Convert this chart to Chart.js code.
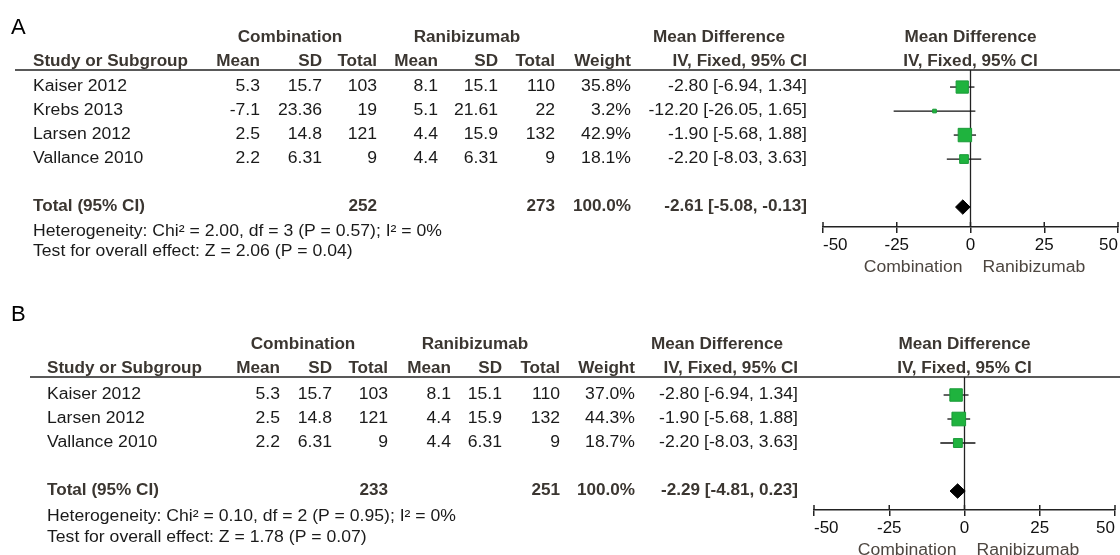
<!DOCTYPE html>
<html>
<head>
<meta charset="utf-8">
<script src="https://cdn.jsdelivr.net/npm/chart.js@4"></script>
<style>
  html, body { margin: 0; padding: 0; background: #fff; overflow: hidden; }
  canvas { position: absolute; left: 0; }
</style>
</head>
<body>
<canvas id="chartA" width="1120" height="285" style="top:0"></canvas>
<canvas id="chartB" width="1120" height="270" style="top:285px"></canvas>
<script>
// --- Panel A data ---
const studiesA = ['Kaiser 2012', 'Krebs 2013', 'Larsen 2012', 'Vallance 2010'];
const comboMeanA = [5.3, -7.1, 2.5, 2.2];
const comboSdA = [15.7, 23.36, 14.8, 6.31];
const comboTotalA = [103, 19, 121, 9];
const raniMeanA = [8.1, 5.1, 4.4, 4.4];
const raniSdA = [15.1, 21.61, 15.9, 6.31];
const raniTotalA = [110, 22, 132, 9];
const weightA = [35.8, 3.2, 42.9, 18.1];
const mdA = [-2.80, -12.20, -1.90, -2.20];
const lowA = [-6.94, -26.05, -5.68, -8.03];
const highA = [1.34, 1.65, 1.88, 3.63];
const pooledA = [-2.61, -5.08, -0.13]; // md, low, high
const pooledTotalsA = [252, 273];
const hetA = 'Heterogeneity: Chi\u00b2 = 2.00, df = 3 (P = 0.57); I\u00b2 = 0%';
const testA = 'Test for overall effect: Z = 2.06 (P = 0.04)';

// --- Panel B data ---
const studiesB = ['Kaiser 2012', 'Larsen 2012', 'Vallance 2010'];
const comboMeanB = [5.3, 2.5, 2.2];
const comboSdB = [15.7, 14.8, 6.31];
const comboTotalB = [103, 121, 9];
const raniMeanB = [8.1, 4.4, 4.4];
const raniSdB = [15.1, 15.9, 6.31];
const raniTotalB = [110, 132, 9];
const weightB = [37.0, 44.3, 18.7];
const mdB = [-2.80, -1.90, -2.20];
const lowB = [-6.94, -5.68, -8.03];
const highB = [1.34, 1.88, 3.63];
const pooledB = [-2.29, -4.81, 0.23];
const pooledTotalsB = [233, 251];
const hetB = 'Heterogeneity: Chi\u00b2 = 0.10, df = 2 (P = 0.95); I\u00b2 = 0%';
const testB = 'Test for overall effect: Z = 1.78 (P = 0.07)';

// axis
const xTicks = [-50, -25, 0, 25, 50];

const FONT = '"Liberation Sans", Arial, sans-serif';
const HEAD = '#3b3631';
const BODY = '#1a1a1a';

function putText(ctx, text, x, y, align, bold, color) {
    ctx.save();
    ctx.font = (bold ? 'bold ' : '') + '16px ' + FONT;
    ctx.fillStyle = color;
    ctx.textBaseline = 'middle';
    ctx.textAlign = align;
    ctx.translate(x, y);
    ctx.scale(bold ? 1.07 : 1.1, 1);
    ctx.fillText(text, 0, 0);
    ctx.restore();
}

function ci(md, lo, hi) {
    return md.toFixed(2) + ' [' + lo.toFixed(2) + ', ' + hi.toFixed(2) + ']';
}

// draws the table part and the decorations around the plot
function tablePlugin(d, lay) {
    return {
        id: 'forestTable',
        afterDraw(chart) {
            const ctx = chart.ctx;
            const x = chart.scales.x;
            const y = chart.scales.y;
            const area = chart.chartArea;
            const c = lay.cols;
            const totalRow = d.studies.length + 1;

            // panel letter
            ctx.save();
            ctx.font = '22px ' + FONT;
            ctx.fillStyle = '#000';
            ctx.textBaseline = 'middle';
            ctx.fillText(lay.letter, 11, lay.letterY);
            ctx.restore();

            // headers
            const h1 = y.getPixelForValue(-2.08);
            const h2 = y.getPixelForValue(-1.08);
            putText(ctx, 'Combination', lay.combCenter, h1, 'center', true, HEAD);
            putText(ctx, 'Ranibizumab', lay.raniCenter, h1, 'center', true, HEAD);
            putText(ctx, 'Mean Difference', lay.mdCenter, h1, 'center', true, HEAD);
            putText(ctx, 'Mean Difference', x.getPixelForValue(0), h1, 'center', true, HEAD);
            putText(ctx, 'Study or Subgroup', lay.studyX, h2, 'left', true, HEAD);
            putText(ctx, 'Mean', c[0], h2, 'right', true, HEAD);
            putText(ctx, 'SD', c[1], h2, 'right', true, HEAD);
            putText(ctx, 'Total', c[2], h2, 'right', true, HEAD);
            putText(ctx, 'Mean', c[3], h2, 'right', true, HEAD);
            putText(ctx, 'SD', c[4], h2, 'right', true, HEAD);
            putText(ctx, 'Total', c[5], h2, 'right', true, HEAD);
            putText(ctx, 'Weight', c[6], h2, 'right', true, HEAD);
            putText(ctx, 'IV, Fixed, 95% CI', c[7], h2, 'right', true, HEAD);
            putText(ctx, 'IV, Fixed, 95% CI', x.getPixelForValue(0), h2, 'center', true, HEAD);

            // rule under headers
            ctx.save();
            ctx.strokeStyle = '#222';
            ctx.lineWidth = 1.5;
            ctx.beginPath();
            ctx.moveTo(lay.lineX, area.top);
            ctx.lineTo(chart.width, area.top);
            ctx.stroke();
            ctx.restore();

            // study rows
            d.studies.forEach((s, i) => {
                const py = y.getPixelForValue(i);
                putText(ctx, s, lay.studyX, py, 'left', false, BODY);
                putText(ctx, String(d.cMean[i]), c[0], py, 'right', false, BODY);
                putText(ctx, String(d.cSd[i]), c[1], py, 'right', false, BODY);
                putText(ctx, String(d.cN[i]), c[2], py, 'right', false, BODY);
                putText(ctx, String(d.rMean[i]), c[3], py, 'right', false, BODY);
                putText(ctx, String(d.rSd[i]), c[4], py, 'right', false, BODY);
                putText(ctx, String(d.rN[i]), c[5], py, 'right', false, BODY);
                putText(ctx, d.weight[i].toFixed(1) + '%', c[6], py, 'right', false, BODY);
                putText(ctx, ci(d.md[i], d.lo[i], d.hi[i]), c[7], py, 'right', false, BODY);
            });

            // total row
            const ty = y.getPixelForValue(totalRow);
            putText(ctx, 'Total (95% CI)', lay.studyX, ty, 'left', true, HEAD);
            putText(ctx, String(d.totals[0]), c[2], ty, 'right', true, HEAD);
            putText(ctx, String(d.totals[1]), c[5], ty, 'right', true, HEAD);
            putText(ctx, '100.0%', c[6], ty, 'right', true, HEAD);
            putText(ctx, ci(d.pooled[0], d.pooled[1], d.pooled[2]), c[7], ty, 'right', true, HEAD);

            putText(ctx, d.het, lay.studyX, y.getPixelForValue(lay.hetRow), 'left', false, BODY);
            putText(ctx, d.test, lay.studyX, y.getPixelForValue(lay.testRow), 'left', false, BODY);

            // tick stubs above the axis line
            ctx.save();
            ctx.strokeStyle = '#222';
            ctx.lineWidth = 1.5;
            x.ticks.forEach(t => {
                const px = x.getPixelForValue(t.value);
                ctx.beginPath();
                ctx.moveTo(px, area.bottom - 5);
                ctx.lineTo(px, area.bottom);
                ctx.stroke();
            });
            ctx.restore();

            // favours labels
            const fy = area.bottom + 41;
            const zero = x.getPixelForValue(0);
            putText(ctx, 'Combination', zero - 8, fy, 'right', false, '#4d4640');
            putText(ctx, 'Ranibizumab', zero + 12, fy, 'left', false, '#4d4640');
        }
    };
}

function buildChart(canvasId, d, lay) {
    const totalRow = d.studies.length + 1;
    const datasets = [];

    // study squares, size from weight
    datasets.push({
        type: 'scatter',
        data: d.md.map((v, i) => ({ x: v, y: i })),
        pointStyle: 'rect',
        pointRadius: d.weight.map(w => Math.sqrt(w) * 1.45),
        backgroundColor: '#1fb33e',
        borderColor: '#1a9a38',
        borderWidth: 1
    });

    // pooled diamond
    const [pm, pl, ph] = d.pooled;
    datasets.push({
        type: 'line',
        data: [
            { x: pl, y: totalRow },
            { x: pm, y: totalRow - 0.3 },
            { x: ph, y: totalRow },
            { x: pm, y: totalRow + 0.3 },
            { x: pl, y: totalRow }
        ],
        showLine: true,
        fill: 'shape',
        backgroundColor: '#000',
        borderColor: '#000',
        borderWidth: 1,
        pointRadius: 0,
        tension: 0
    });

    // confidence intervals
    d.md.forEach((v, i) => {
        datasets.push({
            type: 'line',
            data: [{ x: d.lo[i], y: i }, { x: d.hi[i], y: i }],
            showLine: true,
            borderColor: '#111',
            borderWidth: 1.3,
            pointRadius: 0
        });
    });

    // line of no effect
    datasets.push({
        type: 'line',
        data: [{ x: 0, y: lay.yMin }, { x: 0, y: lay.yMax }],
        showLine: true,
        borderColor: '#222',
        borderWidth: 1.3,
        pointRadius: 0
    });

    return new Chart(document.getElementById(canvasId), {
        type: 'scatter',
        data: { datasets },
        options: {
            responsive: false,
            animation: false,
            events: [],
            layout: {
                autoPadding: false,
                padding: { left: lay.left, right: lay.right, top: lay.top, bottom: 0 }
            },
            plugins: { legend: { display: false }, tooltip: { enabled: false } },
            scales: {
                x: {
                    type: 'linear',
                    min: xTicks[0],
                    max: xTicks[xTicks.length - 1],
                    afterBuildTicks: scale => { scale.ticks = xTicks.map(v => ({ value: v })); },
                    afterFit: scale => {
                        scale.height = lay.axisHeight;
                        scale.paddingLeft = 0;
                        scale.paddingRight = 0;
                    },
                    border: { display: true, color: '#222', width: 1.5 },
                    grid: { drawOnChartArea: false, drawTicks: true, tickLength: 6, color: '#222', lineWidth: 1.5 },
                    ticks: {
                        align: 'inner',
                        padding: 2,
                        color: '#111',
                        font: { family: FONT, size: 17 },
                        maxRotation: 0
                    }
                },
                y: {
                    type: 'linear',
                    display: false,
                    reverse: true,
                    min: lay.yMin,
                    max: lay.yMax
                }
            }
        },
        plugins: [tablePlugin(d, lay)]
    });
}

buildChart('chartA', {
    studies: studiesA, cMean: comboMeanA, cSd: comboSdA, cN: comboTotalA,
    rMean: raniMeanA, rSd: raniSdA, rN: raniTotalA, weight: weightA,
    md: mdA, lo: lowA, hi: highA, pooled: pooledA, totals: pooledTotalsA,
    het: hetA, test: testA
}, {
    letter: 'A', letterY: 28,
    left: 823, right: 2, top: 70, axisHeight: 58,
    yMin: -0.71, yMax: 5.83, hetRow: 6.04, testRow: 6.86,
    studyX: 33, lineX: 15,
    cols: [260, 322, 377, 438, 498, 555, 631, 807],
    combCenter: 290, raniCenter: 467, mdCenter: 719
});

buildChart('chartB', {
    studies: studiesB, cMean: comboMeanB, cSd: comboSdB, cN: comboTotalB,
    rMean: raniMeanB, rSd: raniSdB, rN: raniTotalB, weight: weightB,
    md: mdB, lo: lowB, hi: highB, pooled: pooledB, totals: pooledTotalsB,
    het: hetB, test: testB
}, {
    letter: 'B', letterY: 30,
    left: 814, right: 5, top: 92, axisHeight: 45,
    yMin: -0.75, yMax: 4.79, hetRow: 5.08, testRow: 5.96,
    studyX: 47, lineX: 30,
    cols: [280, 332, 388, 451, 502, 560, 635, 798],
    combCenter: 303, raniCenter: 475, mdCenter: 717
});
</script>
</body>
</html>
